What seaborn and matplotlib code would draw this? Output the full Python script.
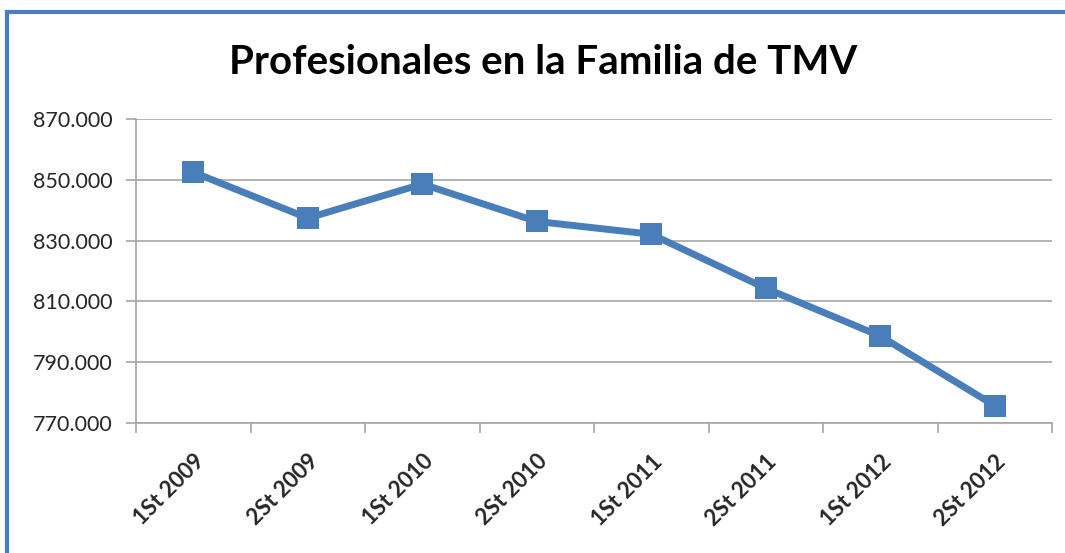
import matplotlib
matplotlib.use("Agg")
import matplotlib.pyplot as plt
from matplotlib.patches import Rectangle
from matplotlib.ticker import FuncFormatter, FixedLocator
import seaborn as sns
import pandas as pd

periods = ["1St 2009", "2St 2009", "1St 2010", "2St 2010",
           "1St 2011", "2St 2011", "1St 2012", "2St 2012"]
professionals = [852500, 837400, 848600, 836300, 832100, 814300, 798600, 775700]
y_ticks = [770000, 790000, 810000, 830000, 850000, 870000]

df = pd.DataFrame({"period": periods, "value": professionals})

sns.set_style("white")
plt.rcParams["font.family"] = ["Lato", "DejaVu Sans"]

blue = "#4a7ebb"
grid_c = "#a6a6a6"

fig = plt.figure(figsize=(10.65, 5.53), dpi=100)
ax = fig.add_axes([136 / 1065, 130 / 553, 916 / 1065, 304 / 553])

sns.lineplot(data=df, x="period", y="value", ax=ax, color=blue,
             linewidth=5, marker="s", markersize=15.5, markeredgewidth=0,
             sort=False)

ax.set_xlim(-0.5, len(periods) - 0.5)
ax.set_ylim(y_ticks[0], y_ticks[-1])
ax.set_yticks(y_ticks)
ax.yaxis.set_major_formatter(FuncFormatter(lambda v, p: f"{v:,.0f}".replace(",", ".")))
ax.yaxis.grid(True, color=grid_c, linewidth=1.2)
ax.set_axisbelow(True)

ax.set_xticks(range(len(periods)))
ax.set_xticklabels(periods, rotation=45, ha="right", rotation_mode="anchor",
                   fontweight="bold", fontsize=16)
ax.xaxis.set_minor_locator(FixedLocator([i - 0.5 for i in range(len(periods) + 1)]))
ax.tick_params(axis="x", which="major", length=0, pad=20)
ax.tick_params(axis="x", which="minor", length=7, width=1.2, color=grid_c, direction="out", bottom=True)
ax.tick_params(axis="y", length=7, width=1.2, color=grid_c, direction="out", left=True,
               labelsize=15.5, pad=10, labelcolor="#262626")

for side in ["top", "right"]:
    ax.spines[side].set_visible(False)
for side in ["left", "bottom"]:
    ax.spines[side].set_color(grid_c)
    ax.spines[side].set_linewidth(1.2)

ax.set_xlabel("")
ax.set_ylabel("")

fig.text(543 / 1065, 1 - 62 / 553, "Profesionales en la Familia de TMV",
         ha="center", va="center", fontsize=29, fontweight="bold", color="black")

# chart frame
fig.patches.append(Rectangle((7 / 1065, -0.1), 1.2, 1 - 11.5 / 553 + 0.1,
                             transform=fig.transFigure, fill=False,
                             edgecolor=blue, linewidth=3))

fig.savefig("out.png", dpi=100)
